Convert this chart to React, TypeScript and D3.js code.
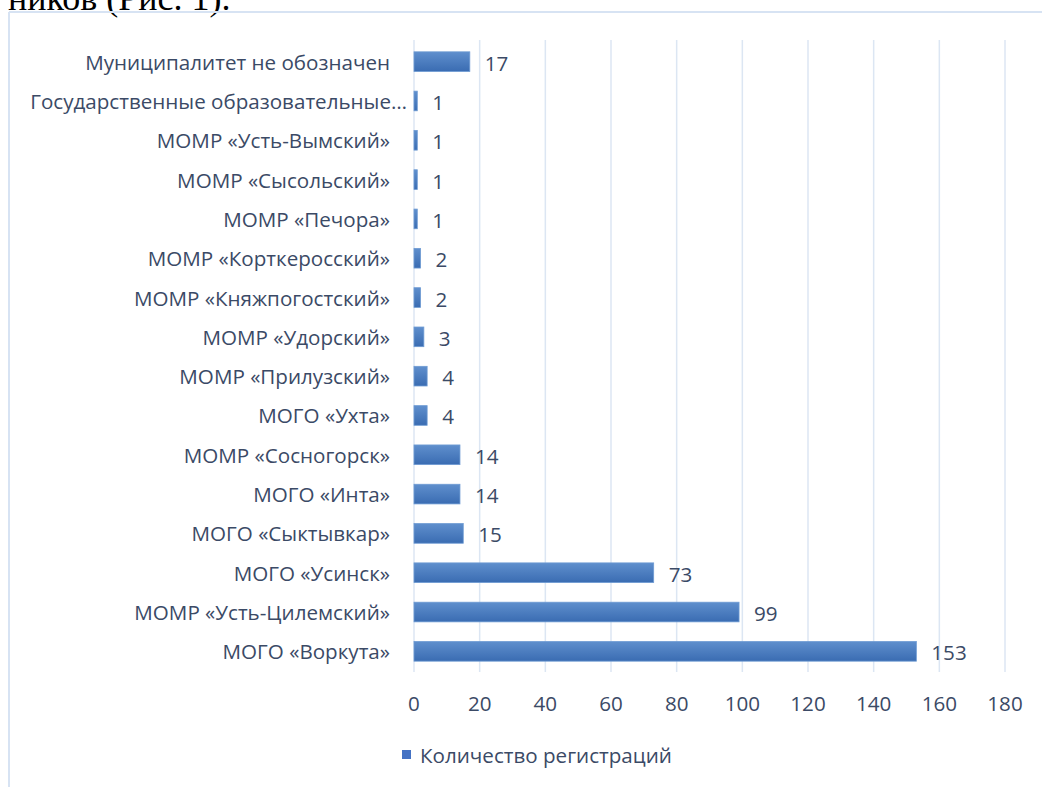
import React from "react";
import * as d3 from "d3";

const categories = [
  "Муниципалитет не обозначен",
  "Государственные образовательные…",
  "МОМР «Усть-Вымский»",
  "МОМР «Сысольский»",
  "МОМР «Печора»",
  "МОМР «Корткеросский»",
  "МОМР «Княжпогостский»",
  "МОМР «Удорский»",
  "МОМР «Прилузский»",
  "МОГО «Ухта»",
  "МОМР «Сосногорск»",
  "МОГО «Инта»",
  "МОГО «Сыктывкар»",
  "МОГО «Усинск»",
  "МОМР «Усть-Цилемский»",
  "МОГО «Воркута»",
];
const values = [17, 1, 1, 1, 1, 2, 2, 3, 4, 4, 14, 14, 15, 73, 99, 153];
const ticks = [0, 20, 40, 60, 80, 100, 120, 140, 160, 180];
const seriesName = "Количество регистраций";

const W = 1042;
const H = 787;
const plot = { left: 414, right: 1005, top: 42, bottom: 671 };
const textColor = "#3B4A66";
const font = "'Open Sans', 'Noto Sans', sans-serif";
const fs = 20.6;

export default function App() {
  const x = d3.scaleLinear().domain([0, 180]).range([plot.left, plot.right]);
  const y = d3
    .scaleBand<string>()
    .domain(categories)
    .range([plot.top, plot.bottom])
    .paddingInner(0.5)
    .paddingOuter(0.25);

  return (
    <svg
      width={W}
      height={H}
      style={{ position: "absolute", left: 0, top: 0, background: "#fff" }}
    >
      <defs>
        <linearGradient id="barGrad" x1="0" y1="0" x2="0" y2="1">
          <stop offset="0%" stopColor="#5F8FCD" />
          <stop offset="100%" stopColor="#3A6CB2" />
        </linearGradient>
      </defs>
      <text
        x={8}
        y={10}
        fontFamily="'Liberation Serif', 'DejaVu Serif', serif"
        fontSize={36}
        fill="#000"
      >
        ников (Рис. 1).
      </text>
      {/* chart border */}
      <line x1={9} y1={12} x2={W} y2={12} stroke="#D7E3F3" strokeWidth={2} />
      <line x1={9} y1={12} x2={9} y2={H} stroke="#D7E3F3" strokeWidth={2} />

      {/* gridlines */}
      {ticks.map((t) => (
        <line
          key={t}
          x1={x(t)}
          x2={x(t)}
          y1={plot.top - 2}
          y2={plot.bottom + 1}
          stroke="#DCE6F3"
          strokeWidth={1.5}
        />
      ))}

      {/* bars */}
      {categories.map((c, i) => (
        <rect
          key={c}
          x={x(0)}
          y={y(c)!}
          width={Math.max(x(values[i]) - x(0), 0)}
          height={y.bandwidth()}
          fill="url(#barGrad)"
          stroke="#6E9BD3"
          strokeWidth={0.8}
        />
      ))}

      {/* category labels */}
      {categories.map((c) => (
        <text
          key={c}
          x={c.endsWith("…") ? 407 : 390}
          y={y(c)! + y.bandwidth() / 2}
          textAnchor="end"
          dominantBaseline="central"
          fontFamily={font}
          fontSize={fs}
          fill={textColor}
        >
          {c}
        </text>
      ))}

      {/* value labels */}
      {categories.map((c, i) => (
        <text
          key={c}
          x={x(values[i]) + 15}
          y={y(c)! + y.bandwidth() / 2 + 1}
          textAnchor="start"
          dominantBaseline="central"
          fontFamily={font}
          fontSize={fs}
          fill={textColor}
        >
          {values[i]}
        </text>
      ))}

      {/* x tick labels */}
      {ticks.map((t) => (
        <text
          key={t}
          x={x(t)}
          y={703}
          textAnchor="middle"
          dominantBaseline="central"
          fontFamily={font}
          fontSize={fs}
          fill={textColor}
        >
          {t}
        </text>
      ))}

      {/* legend */}
      <rect x={402} y={750} width={9} height={9} fill="#4472C4" />
      <text
        x={420}
        y={755}
        dominantBaseline="central"
        fontFamily={font}
        fontSize={fs}
        fill={textColor}
      >
        {seriesName}
      </text>
    </svg>
  );
}
